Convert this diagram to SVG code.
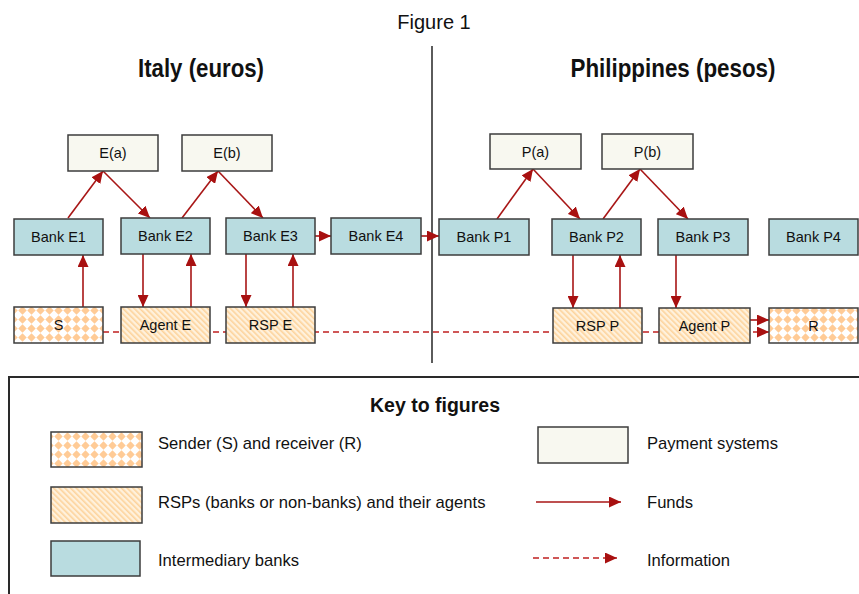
<svg xmlns="http://www.w3.org/2000/svg" width="859" height="594" viewBox="0 0 859 594">
<style>
text{font-family:"Liberation Sans",Arial,sans-serif;fill:#111}
.lbl{font-size:14.5px;text-anchor:middle;dominant-baseline:central}
.key{font-size:16.6px}
.ttl{font-size:25px;font-weight:bold;text-anchor:middle}
.box{stroke:#3c3c3c;stroke-width:1.5}
.pay{fill:#f8f8f0}
.bank{fill:#b9dce0}
.rsp{fill:url(#hatch)}
.sr{fill:url(#diam)}
.fund{stroke:#a81616;stroke-width:1.6;fill:none;marker-end:url(#ah)}
.info{stroke:#c02020;stroke-width:1.4;fill:none;stroke-dasharray:6,4;marker-end:url(#ah)}
.frame{stroke:#2a2a2a;stroke-width:2;fill:none}
</style>
<defs>
<marker id="ah" markerUnits="userSpaceOnUse" markerWidth="12" markerHeight="11" refX="12" refY="5.5" orient="auto">
<path d="M0,0 L12,5.5 L0,11 z" fill="#a81010"/>
</marker>
<pattern id="diam" patternUnits="userSpaceOnUse" width="9" height="9">
<rect width="9" height="9" fill="#ffffff"/>
<path d="M4.5,0.3 L8.7,4.5 L4.5,8.7 L0.3,4.5 z" fill="#ffcb96"/>
</pattern>
<pattern id="hatch" patternUnits="userSpaceOnUse" width="4" height="4" patternTransform="rotate(-45)">
<rect width="4" height="4" fill="#fff1dc"/>
<rect width="1.6" height="4" fill="#fdd39c"/>
</pattern>
</defs>
<rect width="859" height="594" fill="#ffffff"/>
<g id="titles">
<text x="434" y="29" style="font-size:20px;text-anchor:middle">Figure 1</text>
<text class="ttl" x="201" y="77" textLength="126" lengthAdjust="spacingAndGlyphs">Italy (euros)</text>
<text class="ttl" x="673" y="77" textLength="205" lengthAdjust="spacingAndGlyphs">Philippines (pesos)</text>
</g>
<line id="divider" x1="432" y1="46" x2="432" y2="363" stroke="#333" stroke-width="1.6"/>
<g id="connectors">
<line class="info" x1="103" y1="332" x2="769" y2="332"/>
<line class="fund" x1="68" y1="218" x2="103" y2="171"/>
<line class="fund" x1="103" y1="171" x2="150" y2="218"/>
<line class="fund" x1="182" y1="218" x2="218" y2="171"/>
<line class="fund" x1="218" y1="171" x2="263" y2="218"/>
<line class="fund" x1="315" y1="236" x2="331" y2="236"/>
<line class="fund" x1="421" y1="236" x2="439" y2="236"/>
<line class="fund" x1="83" y1="307" x2="83" y2="255"/>
<line class="fund" x1="143" y1="254" x2="143" y2="307"/>
<line class="fund" x1="191" y1="307" x2="191" y2="254"/>
<line class="fund" x1="246" y1="254" x2="246" y2="307"/>
<line class="fund" x1="293" y1="307" x2="293" y2="254"/>
<line class="fund" x1="497" y1="219" x2="533" y2="169"/>
<line class="fund" x1="533" y1="169" x2="580" y2="219"/>
<line class="fund" x1="603" y1="219" x2="640" y2="169"/>
<line class="fund" x1="640" y1="169" x2="688" y2="219"/>
<line class="fund" x1="573" y1="255" x2="573" y2="308"/>
<line class="fund" x1="620" y1="308" x2="620" y2="255"/>
<line class="fund" x1="676" y1="255" x2="676" y2="308"/>
<line class="fund" x1="750" y1="320" x2="769" y2="320"/>
</g>
<g id="Ea"><rect class="box pay" x="68" y="135" width="90" height="36"/><text class="lbl" x="113" y="153">E(a)</text></g>
<g id="Eb"><rect class="box pay" x="182" y="135" width="90" height="36"/><text class="lbl" x="227" y="153">E(b)</text></g>
<g id="E1"><rect class="box bank" x="14" y="219" width="89" height="36"/><text class="lbl" x="58.5" y="237">Bank E1</text></g>
<g id="E2"><rect class="box bank" x="121" y="218" width="89" height="36"/><text class="lbl" x="165.5" y="236">Bank E2</text></g>
<g id="E3"><rect class="box bank" x="226" y="218" width="89" height="36"/><text class="lbl" x="270.5" y="236">Bank E3</text></g>
<g id="E4"><rect class="box bank" x="331" y="218" width="90" height="36"/><text class="lbl" x="376" y="236">Bank E4</text></g>
<g id="S"><rect class="box sr" x="14" y="307" width="89" height="36"/><text class="lbl" x="58.5" y="325">S</text></g>
<g id="AgentE"><rect class="box rsp" x="121" y="307" width="89" height="36"/><text class="lbl" x="165.5" y="325">Agent E</text></g>
<g id="RSPE"><rect class="box rsp" x="226" y="307" width="89" height="36"/><text class="lbl" x="270.5" y="325">RSP E</text></g>
<g id="Pa"><rect class="box pay" x="490" y="134" width="91" height="35"/><text class="lbl" x="535.5" y="151.5">P(a)</text></g>
<g id="Pb"><rect class="box pay" x="602" y="134" width="91" height="35"/><text class="lbl" x="647.5" y="151.5">P(b)</text></g>
<g id="P1"><rect class="box bank" x="439" y="219" width="90" height="36"/><text class="lbl" x="484" y="237">Bank P1</text></g>
<g id="P2"><rect class="box bank" x="552" y="219" width="89" height="36"/><text class="lbl" x="596.5" y="237">Bank P2</text></g>
<g id="P3"><rect class="box bank" x="658" y="219" width="90" height="36"/><text class="lbl" x="703" y="237">Bank P3</text></g>
<g id="P4"><rect class="box bank" x="769" y="219" width="89" height="36"/><text class="lbl" x="813.5" y="237">Bank P4</text></g>
<g id="RSPP"><rect class="box rsp" x="553" y="308" width="89" height="35"/><text class="lbl" x="597.5" y="325.5">RSP P</text></g>
<g id="AgentP"><rect class="box rsp" x="659" y="308" width="91" height="35"/><text class="lbl" x="704.5" y="325.5">Agent P</text></g>
<g id="R"><rect class="box sr" x="769" y="308" width="89" height="35"/><text class="lbl" x="813.5" y="325.5">R</text></g>
<g id="legend">
<path class="frame" d="M9,594 L9,377 L859,377"/>
<text x="435" y="412" style="font-size:19.5px;font-weight:bold;text-anchor:middle">Key to figures</text>
<rect class="box sr" x="51" y="432" width="91" height="35"/>
<text class="key" x="158" y="449">Sender (S) and receiver (R)</text>
<rect class="box rsp" x="51" y="487" width="91" height="36"/>
<text class="key" x="158" y="508">RSPs (banks or non-banks) and their agents</text>
<rect class="box bank" x="51" y="541" width="89" height="35"/>
<text class="key" x="158" y="566">Intermediary banks</text>
<rect class="box pay" x="538" y="427" width="90" height="36"/>
<text class="key" x="647" y="449">Payment systems</text>
<line class="fund" x1="536" y1="502" x2="621" y2="502"/>
<text class="key" x="647" y="508">Funds</text>
<line class="info" x1="533" y1="558" x2="617" y2="558"/>
<text class="key" x="647" y="566">Information</text>
</g>
</svg>
